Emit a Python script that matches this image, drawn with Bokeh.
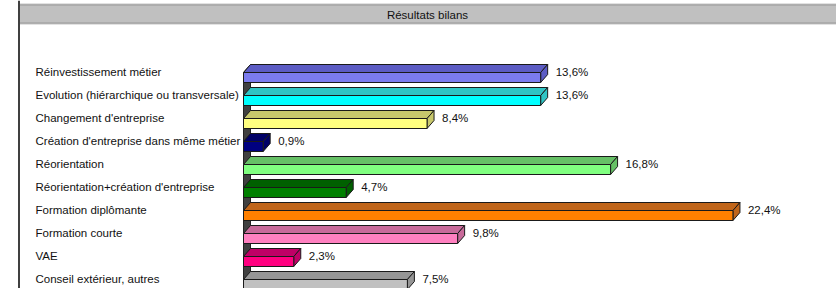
from bokeh.plotting import figure
from bokeh.models import Range1d, Span, ColumnDataSource, BoxAnnotation, Label
from bokeh.core.properties import value
from bokeh.embed import file_html
from bokeh.resources import INLINE

categories = [
    "Réinvestissement métier",
    "Evolution (hiérarchique ou transversale)",
    "Changement d'entreprise",
    "Création d'entreprise dans même métier",
    "Réorientation",
    "Réorientation+création d'entreprise",
    "Formation diplômante",
    "Formation courte",
    "VAE",
    "Conseil extérieur, autres",
]
values = [13.6, 13.6, 8.4, 0.9, 16.8, 4.7, 22.4, 9.8, 2.3, 7.5]
value_labels = ["13,6%", "13,6%", "8,4%", "0,9%", "16,8%", "4,7%", "22,4%", "9,8%", "2,3%", "7,5%"]
front_colors = ["#7b7bef", "#00ffff", "#ffff80", "#000080", "#80ff80",
                "#008000", "#ff8000", "#ff80c0", "#ff0080", "#c0c0c0"]
top_colors = ["#5c5cc4", "#2fc4c4", "#c8c86c", "#000066", "#66c066",
              "#006000", "#c0651a", "#c86a9a", "#c00066", "#969696"]
title_text = "Résultats bilans"

FONT = "Liberation Sans"
FS = "11.5px"
PX_X = 21.85      # pixels per percent
PX_Y = 23.0       # pixels per row
W, H = 836, 288
ORIGIN_X = 1      # observed page position of the figure
ORIGIN_Y = 1

def dxu(px):      # page x -> data x
    return (px - 244) / PX_X

def dyu(py):      # page y -> data y (rows grow downwards)
    return (py - 78) / PX_Y

x_start, x_end = dxu(ORIGIN_X), dxu(ORIGIN_X + W)
y_top, y_bot = dyu(ORIGIN_Y), dyu(ORIGIN_Y + H)

p = figure(width=W, height=H, output_backend="svg", toolbar_location=None,
           x_range=Range1d(x_start, x_end), y_range=Range1d(y_bot, y_top),
           min_border=0, background_fill_color="white",
           border_fill_color="white", outline_line_color=None)
p.axis.visible = False
p.grid.visible = False

# title bar
p.add_layout(BoxAnnotation(left=dxu(19.5), right=x_end + 1, top=dyu(5), bottom=dyu(24),
                           fill_color="#c0c0c0", fill_alpha=1.0,
                           line_color="#404040", line_width=2))
p.add_layout(Label(x=dxu(428), y=dyu(15), text=title_text, text_align="center",
                   text_baseline="middle", text_font=FONT, text_font_size=FS,
                   text_color="#111111"))
# left frame border
p.add_layout(Span(location=dxu(19.5), dimension="height",
                  line_color="#404040", line_width=2))

fh = 10 / PX_Y       # front face height
dx = 7 / PX_X        # depth offset x
dy = 8 / PX_Y        # depth offset y (upwards)

n = len(values)
wall_top = 0 - fh / 2
wall_bot = n + 1
p.patch([0, dx, dx, 0], [wall_top, wall_top - dy, wall_bot - dy, wall_bot],
        fill_color="#404040", line_color="#222222", line_width=1)

for i, (v, fc, tc) in enumerate(zip(values, front_colors, top_colors)):
    t = i - fh / 2
    b = i + fh / 2
    p.patch([0, v, v + dx, dx], [t, t, t - dy, t - dy],
            fill_color=tc, line_color="#1a1a1a", line_width=1)
    p.patch([v, v + dx, v + dx, v], [t, t - dy, b - dy, b],
            fill_color=tc, line_color="#1a1a1a", line_width=1)
    p.quad(left=0, right=v, top=t, bottom=b,
           fill_color=fc, line_color="#1a1a1a", line_width=1)

rows = list(range(n))
label_src = ColumnDataSource(dict(
    x=[dxu(36)] * n,
    y=[r - 6 / PX_Y for r in rows],
    text=categories,
))
p.text(x="x", y="y", text="text", source=label_src,
       text_font=value(FONT), text_font_size=FS, text_color="#111111",
       text_align="left", text_baseline="middle")

val_src = ColumnDataSource(dict(
    x=[v + dx + 8 / PX_X for v in values],
    y=[r - 6 / PX_Y for r in rows],
    text=value_labels,
))
p.text(x="x", y="y", text="text", source=val_src,
       text_font=value(FONT), text_font_size=FS, text_color="#111111",
       text_align="left", text_baseline="middle")

open("out.html", "w").write(file_html(p, INLINE))
